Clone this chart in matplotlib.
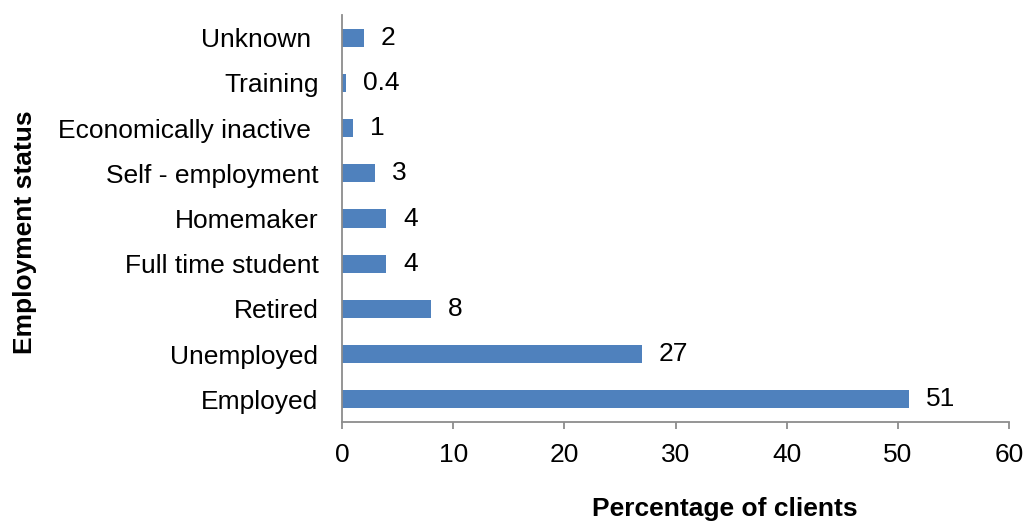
import matplotlib.pyplot as plt

plt.rcParams["font.family"] = ["Liberation Sans", "DejaVu Sans"]

# Employment status of clients, bottom to top
categories = [
    "Employed",
    "Unemployed",
    "Retired",
    "Full time student",
    "Homemaker",
    "Self - employment",
    "Economically inactive ",
    "Training",
    "Unknown ",
]
percentages = [51, 27, 8, 4, 4, 3, 1, 0.4, 2]
x_ticks = [0, 10, 20, 30, 40, 50, 60]

fig = plt.figure(figsize=(10.26, 5.23), dpi=100)
ax = fig.add_axes([342 / 1026, 1 - 422 / 523, 667 / 1026, 407 / 523])

bar_color = "#4F81BD"
axis_color = "#8C8C8C"

positions = range(len(categories))
ax.barh(positions, percentages, height=0.4, color=bar_color)

for pos, value in zip(positions, percentages):
    ax.annotate(
        f"{value:g}",
        xy=(value, pos),
        xytext=(12, 0),
        textcoords="offset points",
        va="center",
        ha="left",
        fontsize=19,
    )

ax.set_xlim(0, 60)
ax.set_ylim(-0.5, len(categories) - 0.5)
ax.set_xticks(x_ticks)
ax.set_yticks(list(positions))
ax.set_yticklabels(categories)

for side in ["top", "right"]:
    ax.spines[side].set_visible(False)
for side in ["left", "bottom"]:
    ax.spines[side].set_color(axis_color)
    ax.spines[side].set_linewidth(1.3)

ax.tick_params(axis="x", direction="out", length=5, width=1.3, color=axis_color,
               labelsize=19, pad=10)
ax.tick_params(axis="y", length=0, labelsize=19, pad=17)

fig.text(725 / 1026, 1 - 509 / 523, "Percentage of clients", ha="center", va="center",
         fontsize=19, fontweight="bold")
fig.text(25 / 1026, 1 - 232 / 523, "Employment status", ha="center", va="center",
         rotation=90, fontsize=19, fontweight="bold")

fig.savefig("out.png", dpi=100)
